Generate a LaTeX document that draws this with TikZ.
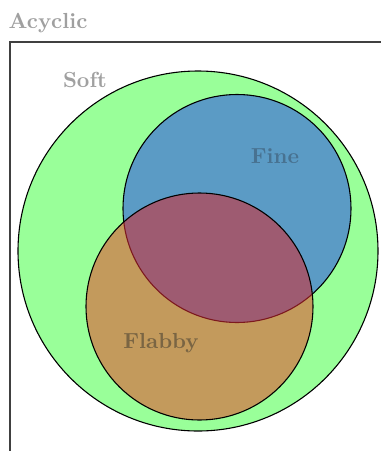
\documentclass[tikz,border=0pt]{standalone}
\definecolor{softgreen}{RGB}{153,255,153}
\definecolor{fineblue}{RGB}{91,155,197}
\definecolor{flabbyorange}{RGB}{195,154,92}
\definecolor{bothpurple}{RGB}{158,91,113}
\definecolor{labelgray}{RGB}{160,160,160}
\definecolor{finetext}{RGB}{72,114,145}
\definecolor{flabbytext}{RGB}{122,101,67}
\definecolor{hiddenedge}{RGB}{125,25,30}
\begin{document}
\begin{tikzpicture}[x=0.4587pt,y=-0.4587pt,
  region/.style={draw=black,line width=0.5pt},
  lbl/.style={font=\bfseries,anchor=base,inner sep=0pt}]
\useasboundingbox (0,0) rectangle (381,451);
% frame
\draw[line width=0.6pt,black!75] (10,451) -- (10,42) -- (381,42);
\node[lbl,text=labelgray] (acyclic) at (48,28) {Acyclic};
% circles
\fill[softgreen] (198,251) circle (180);
\draw[region] (198,251) circle (180);
\fill[fineblue] (237,208.5) circle (114);
\draw[region] (237,208.5) circle (114);
\fill[flabbyorange] (199.5,306.5) circle (113.5);
\begin{scope}
  \clip (237,208.5) circle (114);
  \fill[bothpurple] (199.5,306.5) circle (113.5);
\end{scope}
\begin{scope}
  \clip (199.5,306.5) circle (113.5);
  \draw[line width=0.5pt,hiddenedge] (237,208.5) circle (114);
\end{scope}
\draw[region] (199.5,306.5) circle (113.5);
% labels
\node[lbl,text=labelgray] (soft) at (85,87) {Soft};
\node[lbl,text=finetext] (fine) at (275,163) {Fine};
\node[lbl,text=flabbytext] (flabby) at (161,348) {Flabby};
\end{tikzpicture}
\end{document}
